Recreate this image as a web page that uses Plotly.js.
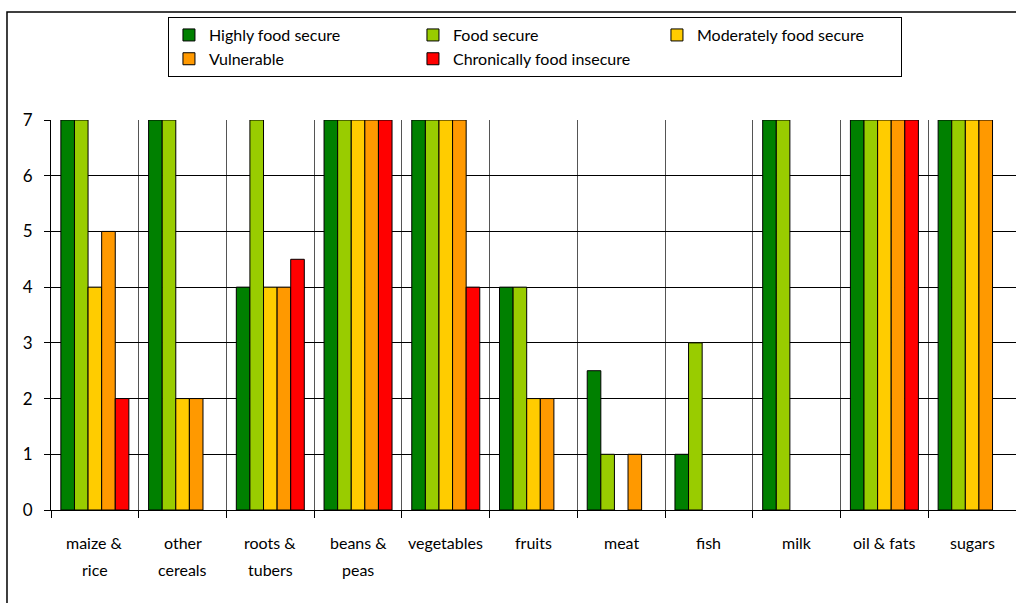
<!DOCTYPE html>
<html>
<head>
<meta charset="utf-8">
<script src="https://cdn.plot.ly/plotly-3.0.1.min.js"></script>
<style>
  html, body { margin: 0; padding: 0; background: #fff; }
  #chart { width: 1016px; height: 603px; }
</style>
</head>
<body>
<div id="chart"></div>
<script>
// Food groups on the category axis (label split over two lines)
const categories = ["maize & rice", "other cereals", "roots & tubers", "beans & peas", "vegetables",
                    "fruits", "meat", "fish", "milk", "oil & fats", "sugars"];
const labelLine1 = ["maize &", "other", "roots &", "beans &", "vegetables", "fruits", "meat", "fish", "milk", "oil & fats", "sugars"];
const labelLine2 = ["rice", "cereals", "tubers", "peas", "", "", "", "", "", "", ""];

// Days per week each food group is eaten, by food security group
const seriesNames = ["Highly food secure", "Food secure", "Moderately food secure", "Vulnerable", "Chronically food insecure"];
const highlySecure   = [7, 7, 4,   7, 7, 4, 2.5, 1, 7, 7, 7];
const foodSecure     = [7, 7, 7,   7, 7, 4, 1,   3, 7, 7, 7];
const moderately     = [4, 2, 4,   7, 7, 2, 0,   0, 0, 7, 7];
const vulnerable     = [5, 2, 4,   7, 7, 2, 1,   0, 0, 7, 7];
const chronically    = [2, 0, 4.5, 7, 4, 0, 0,   0, 0, 7, 0];
const seriesColors = ["#008000", "#99CC00", "#FFCC00", "#FF9900", "#FF0000"];

const seriesValues = [highlySecure, foodSecure, moderately, vulnerable, chronically];
const FONT = "Lato, 'Open Sans', sans-serif";

const traces = seriesValues.map((vals, i) => ({
  type: "bar",
  name: seriesNames[i],
  x: categories,
  y: vals,
  marker: {
    color: seriesColors[i],
    // no outline on empty (zero) bars
    line: { color: "#000", width: vals.map(v => (v > 0 ? 1 : 0)) }
  },
  hoverinfo: "x+y+name"
}));

// Two-line category labels, spaced like the original axis text
const annotations = [];
categories.forEach((c, i) => {
  annotations.push({ x: c, xref: "x", y: 0, yref: "paper", yanchor: "middle", yshift: -32,
    text: labelLine1[i], showarrow: false, font: { family: FONT, size: 16, color: "#000" } });
  if (labelLine2[i]) {
    annotations.push({ x: c, xref: "x", y: 0, yref: "paper", yanchor: "middle", yshift: -59,
      text: labelLine2[i], showarrow: false, font: { family: FONT, size: 16, color: "#000" } });
  }
});

const layout = {
  width: 1016,
  height: 603,
  margin: { l: 51, r: 0, t: 120, b: 93, pad: 0 },
  paper_bgcolor: "#fff",
  plot_bgcolor: "#fff",
  font: { family: FONT, size: 16, color: "#000" },
  barmode: "group",
  bargap: 0.225,
  bargroupgap: 0,
  showlegend: true,
  legend: {
    orientation: "h",
    x: 0.1212, xanchor: "left",
    y: 1.264, yanchor: "top",
    entrywidth: 199, entrywidthmode: "pixels",
    bordercolor: "#000", borderwidth: 1,
    bgcolor: "#fff",
    traceorder: "normal",
    font: { family: FONT, size: 16, color: "#000" }
  },
  xaxis: {
    type: "category",
    range: [-0.5, 10.5],
    tickson: "boundaries",
    ticks: "outside", ticklen: 7, tickcolor: "#000",
    showgrid: true, gridcolor: "#555", gridwidth: 1,
    showline: true, linecolor: "#000", linewidth: 1,
    showticklabels: false,
    fixedrange: true
  },
  yaxis: {
    range: [0, 7],
    dtick: 1,
    ticks: "outside", ticklen: 6, tickcolor: "#000",
    showgrid: true, gridcolor: "#000", gridwidth: 1,
    zeroline: false,
    showline: true, linecolor: "#000", linewidth: 1,
    tickfont: { family: FONT, size: 17, color: "#000" },
    ticklabelstandoff: 8,
    fixedrange: true
  },
  annotations: annotations,
  shapes: [
    // outer chart frame
    { type: "rect", xref: "paper", yref: "paper", x0: -0.0456, x1: 1.05, y0: -0.4, y1: 1.277,
      line: { color: "#000", width: 1.5 }, fillcolor: "rgba(0,0,0,0)", layer: "below" }
  ]
};

Plotly.newPlot("chart", traces, layout, { displayModeBar: false, staticPlot: true });
</script>
</body>
</html>
